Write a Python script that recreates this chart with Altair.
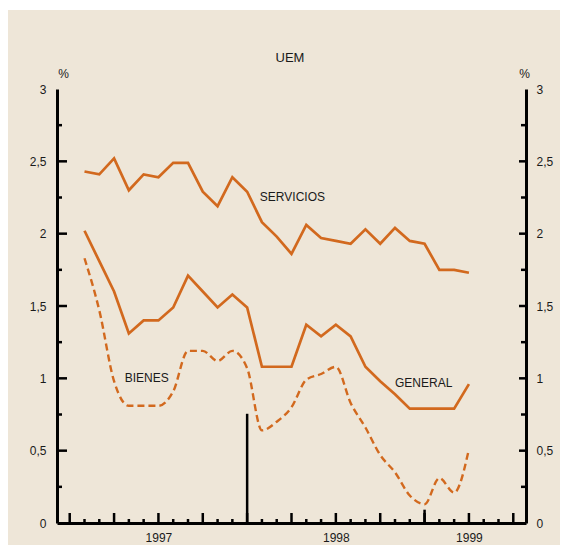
import altair as alt
import pandas as pd

# ---- data (month index: 0 = Jan 1997) ----
months = list(range(1, 28))
servicios = [2.43, 2.41, 2.52, 2.30, 2.41, 2.39, 2.49, 2.49, 2.29, 2.19, 2.39, 2.29,
             2.08, 1.98, 1.86, 2.06, 1.97, 1.95, 1.93, 2.03, 1.93, 2.04, 1.95, 1.93,
             1.75, 1.75, 1.73]
general = [2.02, 1.81, 1.60, 1.31, 1.40, 1.40, 1.49, 1.71, 1.60, 1.49, 1.58, 1.49,
           1.08, 1.08, 1.08, 1.37, 1.29, 1.37, 1.29, 1.08, 0.98, 0.89, 0.79, 0.79,
           0.79, 0.79, 0.96]
bienes = [1.83, 1.47, 0.98, 0.81, 0.81, 0.81, 0.91, 1.19, 1.19, 1.12, 1.19, 1.07,
          0.64, 0.70, 0.80, 0.99, 1.03, 1.08, 0.83, 0.66, 0.47, 0.35, 0.19, 0.13,
          0.31, 0.21, 0.51]

series_names = ["SERVICIOS", "BIENES", "GENERAL"]
label_x = [12.86, 3.72, 22.0]
label_y = [2.255, 1.0, 0.97]

y_major = [0, 0.5, 1, 1.5, 2, 2.5, 3]
y_tick_major = [0.5, 1, 1.5, 2, 2.5]
y_tick_minor = [0.25, 0.75, 1.25, 1.75, 2.25, 2.75]
x_tick_major = list(range(0, 31, 3))
x_tick_minor = [m for m in range(0, 31) if m % 3]
year_pos = [6, 18, 27]
year_labels = ["1997", "1998", "1999"]
marker_x = [12, 24]
marker_top = [0.755, 0.092]

title_text = "UEM"

# ---- style ----
W, H = 469, 434
ORANGE = "#D2691E"
BG = "#EEE6D8"
FONT = "Liberation Sans"
XDOM = [-0.86, 30.86]

xs = alt.Scale(domain=XDOM, nice=False, zero=False)
ys = alt.Scale(domain=[0, 3], nice=False, zero=False)

lbl_expr_y = "replace(toString(datum.value), '.', ',')"
lbl_expr_x = " : ".join(
    [f"datum.value == {p} ? '{l}'" for p, l in zip(year_pos[:-1], year_labels[:-1])]
) + f" : '{year_labels[-1]}'"

common_axis = dict(
    values=y_major, labelExpr=lbl_expr_y, ticks=False, tickSize=0,
    domainColor="black", domainWidth=3, grid=False,
    labelFont=FONT, labelFontSize=12, labelColor="#1a1a1a",
    title="%", titleAngle=0, titleFont=FONT, titleFontSize=12,
    titleFontWeight="normal", titleColor="#1a1a1a",
    titleAlign="center", titleBaseline="middle", titleY=-16,
)
left_axis = alt.Axis(orient="left", labelPadding=11, titleX=6, **common_axis)
right_axis = alt.Axis(orient="right", labelPadding=10, titleX=-2, **common_axis)
x_axis = alt.Axis(
    orient="bottom", values=year_pos, labelExpr=lbl_expr_x, ticks=False, tickSize=0,
    domainColor="black", domainWidth=3, grid=False, labelPadding=9,
    labelFont=FONT, labelFontSize=12, labelColor="#1a1a1a", title=None,
    labelFlush=False,
)

def X(field="m"):
    return alt.X(f"{field}:Q", scale=xs, axis=x_axis)

df_solid = pd.DataFrame({
    "m": months + months,
    "v": servicios + general,
    "s": ["SERVICIOS"] * len(months) + ["GENERAL"] * len(months),
})
df_b = pd.DataFrame({"m": months, "v": bienes})

solid = alt.Chart(df_solid).mark_line(color=ORANGE, strokeWidth=2.7).encode(
    x=X(),
    y=alt.Y("v:Q", scale=ys, axis=left_axis),
    detail="s:N",
)
dashed = alt.Chart(df_b).mark_line(
    color=ORANGE, strokeWidth=2.4, strokeDash=[7, 4], interpolate="monotone"
).encode(
    x=X(),
    y=alt.Y("v:Q", scale=ys, axis=right_axis),
)

def yrule(vals, x1, x2):
    return alt.Chart(pd.DataFrame({"v": vals})).mark_rule(color="black", strokeWidth=2.5).encode(
        y=alt.Y("v:Q", scale=ys, axis=None), x=alt.value(x1), x2=alt.value(x2)
    )

def xrule(vals, length):
    return alt.Chart(pd.DataFrame({"m": vals})).mark_rule(color="black", strokeWidth=2.5).encode(
        x=X(), y=alt.value(H - length), y2=alt.value(H)
    )

ticks = [
    yrule(y_tick_major, 0, 10), yrule(y_tick_minor, 0, 5),
    yrule(y_tick_major, W - 7, W), yrule(y_tick_minor, W - 5, W),
    xrule(x_tick_major, 10), xrule(x_tick_minor, 4),
]

markers = alt.Chart(pd.DataFrame({"m": marker_x, "t": marker_top})).mark_rule(
    color="black", strokeWidth=2.5
).encode(
    x=X(),
    y=alt.Y("t:Q", scale=ys, axis=None),
    y2=alt.value(H),
)

labels = alt.Chart(pd.DataFrame({"m": label_x, "v": label_y, "t": series_names})).mark_text(
    align="left", baseline="middle", font=FONT, fontSize=12, color="#1a1a1a"
).encode(
    x=X(),
    y=alt.Y("v:Q", scale=ys, axis=None),
    text="t:N",
)

title = alt.Chart(pd.DataFrame({"t": [title_text]})).mark_text(
    align="center", baseline="middle", font=FONT, fontSize=13, color="#1a1a1a"
).encode(x=alt.value(233), y=alt.value(-31), text="t:N")

strip = alt.Chart(pd.DataFrame({"a": [0]})).mark_rect(color="white").encode(
    x=alt.value(-49), x2=alt.value(W + 34), y=alt.value(-81), y2=alt.value(-79)
)

chart = alt.layer(
    strip, *ticks, markers, solid, dashed, labels, title
).resolve_scale(y="independent").properties(
    width=W, height=H,
    autosize=alt.AutoSizeParams(type="none"),
    padding={"left": 49, "top": 81, "right": 34, "bottom": 22},
    background=BG,
).configure_view(stroke=None)

chart.save("out.html", embed_options={"renderer": "svg", "actions": False})
